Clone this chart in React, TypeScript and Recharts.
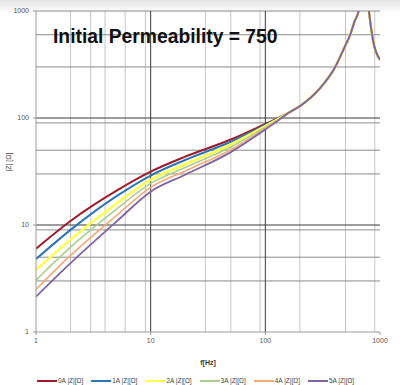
import React from 'react';
import { LineChart, Line, XAxis, YAxis, CartesianGrid, Legend } from 'recharts';

const freq = [1, 2, 5, 10, 20, 50, 100, 130, 160, 200, 300, 400, 500, 550, 600, 650, 720, 800, 870, 1000];
const z0A = [6.0, 10.9, 20.8, 31.5, 43.5, 63, 88, 100, 112, 129, 190, 290, 480, 600, 800, 1000, 4000, 1000, 530, 350];
const z1A = [4.8, 9.0, 18.5, 29, 40.5, 60, 86, 99, 112, 129, 190, 290, 480, 600, 800, 1000, 4000, 1000, 530, 350];
const z2A = [3.8, 7.3, 15.8, 26.5, 37, 56.5, 84, 98, 112, 129, 190, 290, 480, 600, 800, 1000, 4000, 1000, 530, 350];
const z3A = [3.05, 6.2, 14.0, 24.5, 34.5, 53.5, 82, 97, 112, 129, 190, 290, 480, 600, 800, 1000, 4000, 1000, 530, 350];
const z4A = [2.5, 5.2, 12.2, 22.5, 32, 50.5, 80, 96, 112, 129, 190, 290, 480, 600, 800, 1000, 4000, 1000, 530, 350];
const z5A = [2.14, 4.4, 10.7, 20.5, 29.5, 48, 78, 95, 112, 129, 190, 290, 480, 600, 800, 1000, 4000, 1000, 530, 350];

const seriesNames = ['0A |Z|[Ω]', '1A |Z|[Ω]', '2A |Z|[Ω]', '3A |Z|[Ω]', '4A |Z|[Ω]', '5A |Z|[Ω]'];
const seriesKeys = ['a0', 'a1', 'a2', 'a3', 'a4', 'a5'];
const seriesColors = ['#9e1b2c', '#2e75b6', '#ffff4f', '#a9d08e', '#f4a877', '#8064a2'];
const seriesWidths = [2, 2, 2.6, 1.6, 1.6, 1.8];
const seriesValues = [z0A, z1A, z2A, z3A, z4A, z5A];

const majorTicks = [1, 10, 100, 1000];
const innerMajor = [10, 100];
const minorValues = [2, 3, 4, 5, 6, 7, 8, 9, 20, 30, 40, 50, 60, 70, 80, 90, 200, 300, 400, 500, 600, 700, 800, 900];
const minorY = [2, 3, 4, 5, 6, 7, 8, 9, 20, 30, 40, 50, 60, 70, 80, 90, 200, 300, 400, 500, 600, 700, 800, 900, 1000];

const data = freq.map((f, i) => {
  const row: Record<string, number> = { f };
  seriesKeys.forEach((k, j) => {
    row[k] = seriesValues[j][i];
  });
  return row;
});

const LegendContent = (props: any) => {
  const payload = props.payload || [];
  return (
    <div style={{ display: 'flex', fontFamily: 'Liberation Sans, Arial, sans-serif', fontSize: 6.5, color: '#444' }}>
      {payload.map((p: any, i: number) => (
        <div key={i} style={{ width: 54.2, display: 'flex', alignItems: 'center', whiteSpace: 'nowrap' }}>
          <span style={{ display: 'inline-block', width: 20, height: 2, background: p.color, marginRight: 1 }} />
          <span>{p.value}</span>
        </div>
      ))}
    </div>
  );
};

export default function App() {
  return (
    <div
      style={{
        position: 'absolute',
        left: 0,
        top: 0,
        width: 400,
        height: 385,
        background: 'linear-gradient(#e4e4e4 0px, #ffffff 14px)',
      }}
    >
      <LineChart
        width={400}
        height={385}
        data={data}
        margin={{ top: 11, right: 20, left: 8, bottom: 17 }}
      >
        <CartesianGrid horizontal={false} vertical verticalValues={minorValues} stroke="#c6c6c6" strokeWidth={1} />
        <CartesianGrid horizontal horizontalValues={minorY} vertical={false} stroke="#8c8c8c" strokeWidth={1} />
        <CartesianGrid horizontal horizontalValues={innerMajor} vertical verticalValues={innerMajor} stroke="#3a3a3a" strokeWidth={1} />
        <XAxis
          dataKey="f"
          type="number"
          scale="log"
          domain={[1, 1000]}
          ticks={majorTicks}
          allowDataOverflow
          height={36}
          tickSize={3}
          tickMargin={3}
          tickLine={{ stroke: '#999' }}
          axisLine={{ stroke: '#999' }}
          tick={{ fontSize: 7, fill: '#555', fontFamily: 'Liberation Sans, Arial, sans-serif' }}
          label={{ value: 'f[Hz]', position: 'insideBottom', offset: 3, fontSize: 7, fontWeight: 'bold', fill: '#333', fontFamily: 'Liberation Sans, Arial, sans-serif' }}
        />
        <YAxis
          type="number"
          scale="log"
          domain={[1, 1000]}
          ticks={majorTicks}
          allowDataOverflow
          width={28}
          tickSize={3}
          tickMargin={4}
          tickLine={{ stroke: '#999' }}
          axisLine={{ stroke: '#999' }}
          tick={{ fontSize: 7, fill: '#555', fontFamily: 'Liberation Sans, Arial, sans-serif' }}
          label={{ value: '|Z| [Ω]', angle: -90, position: 'insideLeft', offset: 1, fontSize: 7, fill: '#444', fontFamily: 'Liberation Sans, Arial, sans-serif' }}
        />
        {seriesKeys.map((k, i) => (
          <Line
            key={k}
            dataKey={k}
            name={seriesNames[i]}
            type="monotone"
            stroke={seriesColors[i]}
            strokeWidth={seriesWidths[i]}
            dot={false}
            activeDot={false}
            isAnimationActive={false}
          />
        ))}
        <Legend
          layout="horizontal"
          verticalAlign="middle"
          align="center"
          content={<LegendContent />}
          wrapperStyle={{ position: 'absolute', top: 377, left: 37, width: 360 }}
        />
      </LineChart>
      <div
        style={{
          position: 'absolute',
          left: 53,
          top: 26.5,
          fontFamily: 'Liberation Sans, Arial, sans-serif',
          fontWeight: 'bold',
          fontSize: 19.3,
          lineHeight: 1,
          color: '#111',
          whiteSpace: 'nowrap',
        }}
      >
        Initial Permeability = 750
      </div>
    </div>
  );
}
